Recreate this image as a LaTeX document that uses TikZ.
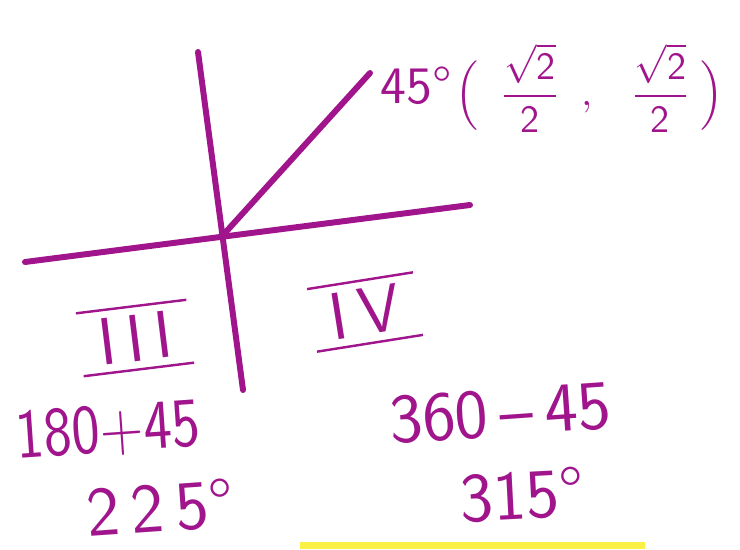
\RequirePackage{fix-cm}
\documentclass[tikz,border=0pt]{standalone}
\usepackage{amsmath}
\usepackage{graphicx}
\usepackage{fontspec}
\definecolor{ink}{RGB}{160,20,140}
\definecolor{marker}{RGB}{250,240,70}
\newcommand{\narrow}[1]{\scalebox{0.85}[1]{#1}}
\begin{document}
\begin{tikzpicture}[
    pen/.style={draw=ink, line width=1.7pt, line cap=round},
    hand/.style={text=ink, inner sep=0pt, font=\sffamily\fontsize{20}{22}\selectfont},
    numeral/.style={hand, font=\sffamily\fontsize{19}{21}\selectfont},
    small/.style={hand, font=\sffamily\fontsize{11}{13}\selectfont},
  ]
    \useasboundingbox (0,0) rectangle (7.40,-5.49);

    % Axes and the 45 degree ray
    \coordinate (xl) at (0.25,-2.62);
    \coordinate (xr) at (4.70,-2.05);
    \coordinate (yt) at (1.98,-0.52);
    \coordinate (yb) at (2.43,-3.90);
    \coordinate (O) at (2.24,-2.34);
    \coordinate (rayend) at (3.70,-0.73);
    \draw[pen] (xl) -- (xr);
    \draw[pen] (yt) -- (yb);
    \draw[pen] (O) -- (rayend);

    % Point on the circle
    \node[hand, font=\sffamily\fontsize{15}{17}\selectfont, anchor=west] (ang) at (3.80,-0.86) {45°};
    \node[small, anchor=west] (pt) at (4.55,-0.88)
      {$\Bigl(\;\;\dfrac{\sqrt{\mathsf{2}}}{\mathsf{2}}\;\;,\;\;\;\dfrac{\sqrt{\mathsf{2}}}{\mathsf{2}}\;\Bigr)$};

    % Quadrants
    \node[numeral, rotate=7] (q3) at (1.35,-3.38) {$\overline{\underline{\;\mathsf{I\,I\,I}\;}}$};
    \node[numeral, rotate=9] (q4) at (3.65,-3.12) {$\overline{\underline{\;\mathsf{I\,V}\;}}$};

    % Angles
    \node[hand, rotate=4] (sum) at (1.08,-4.31) {\narrow{180+45}};
    \node[hand, rotate=4] (a225) at (1.60,-5.08) {2\,2\,5°};
    \node[hand, rotate=4] (diff) at (5.00,-4.13) {360\,--\,45};
    \node[hand, rotate=3] (a315) at (5.22,-4.95) {315°};

    % Highlighter strip
    \fill[marker] (3.00,-5.42) rectangle (6.45,-5.49);
\end{tikzpicture}
\end{document}
